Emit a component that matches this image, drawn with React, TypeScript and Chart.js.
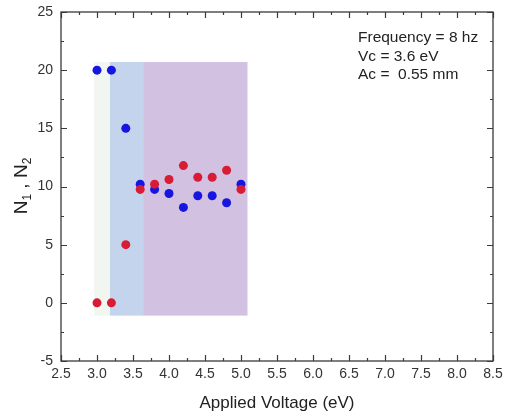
import React, { useEffect, useRef } from "react";
import { Chart, registerables } from "chart.js";

Chart.register(...registerables);

const voltages = [3.0, 3.2, 3.4, 3.6, 3.8, 4.0, 4.2, 4.4, 4.6, 4.8, 5.0];
const n1Values = [20, 20, 15, 10.2, 9.75, 9.4, 8.2, 9.2, 9.2, 8.6, 10.2];
const n2Values = [0, 0, 5, 9.75, 10.2, 10.6, 11.8, 10.8, 10.8, 11.4, 9.75];

const regionStarts = [2.96, 3.18, 3.64];
const regionEnds = [3.18, 3.64, 5.09];
const regionTop = 20.7;
const regionBottom = -1.1;
const regionColors = ["#f2f6f0", "#c4d4ec", "#d3c1e2"];

const annotationLines = ["Frequency = 8 hz", "Vc = 3.6 eV", "Ac =  0.55 mm"];

const xMin = 2.5, xMax = 8.5, xStep = 0.5;
const yMin = -5, yMax = 25, yStep = 5;

const FONT = "'Liberation Sans', Arial, sans-serif";
const AXIS_COLOR = "#3a3a3a";

const regionsPlugin = {
  id: "regions",
  beforeDatasetsDraw(chart: any) {
    const { ctx, scales } = chart;
    const x = scales.x, y = scales.y;
    ctx.save();
    for (let i = 0; i < regionStarts.length; i++) {
      const x0 = x.getPixelForValue(regionStarts[i]);
      const x1 = x.getPixelForValue(regionEnds[i]);
      const y0 = y.getPixelForValue(regionTop);
      const y1 = y.getPixelForValue(regionBottom);
      ctx.fillStyle = regionColors[i];
      ctx.fillRect(x0, y0, x1 - x0, y1 - y0);
    }
    ctx.restore();
  },
};

const frameTicksPlugin = {
  id: "frameTicks",
  afterDraw(chart: any) {
    const { ctx, chartArea, scales } = chart;
    const { left, right, top, bottom } = chartArea;
    ctx.save();
    ctx.strokeStyle = AXIS_COLOR;
    ctx.lineWidth = 1.3;
    ctx.strokeRect(left, top, right - left, bottom - top);
    const major = 6, minor = 3;
    ctx.lineWidth = 1.2;
    ctx.beginPath();
    for (let v = xMin; v <= xMax + 1e-9; v += xStep / 2) {
      const isMajor = Math.abs(Math.round(v / xStep) * xStep - v) < 1e-6;
      const len = isMajor ? major : minor;
      const px = Math.round(scales.x.getPixelForValue(v)) + 0.5;
      ctx.moveTo(px, bottom);
      ctx.lineTo(px, bottom - len);
      ctx.moveTo(px, top);
      ctx.lineTo(px, top + len);
    }
    for (let v = yMin; v <= yMax + 1e-9; v += yStep / 2) {
      const isMajor = Math.abs(Math.round(v / yStep) * yStep - v) < 1e-6;
      const len = isMajor ? major : minor;
      const py = Math.round(scales.y.getPixelForValue(v)) + 0.5;
      ctx.moveTo(left, py);
      ctx.lineTo(left + len, py);
      ctx.moveTo(right, py);
      ctx.lineTo(right - len, py);
    }
    ctx.stroke();

    // annotation text
    ctx.fillStyle = "#222";
    ctx.font = `15.5px ${FONT}`;
    ctx.textBaseline = "middle";
    ctx.textAlign = "left";
    annotationLines.forEach((t, i) => {
      ctx.fillText(t, 358, 38 + i * 18.5);
    });

    // y title with subscripts
    ctx.translate(20, 186);
    ctx.rotate(-Math.PI / 2);
    const big = `19px ${FONT}`;
    const small = `12px ${FONT}`;
    const parts: [string, boolean][] = [["N", false], ["1", true], [" , N", false], ["2", true]];
    let total = 0;
    for (const [t, sub] of parts) {
      ctx.font = sub ? small : big;
      total += ctx.measureText(t).width;
    }
    let cx = -total / 2;
    ctx.textAlign = "left";
    ctx.textBaseline = "alphabetic";
    ctx.fillStyle = "#222";
    for (const [t, sub] of parts) {
      ctx.font = sub ? small : big;
      ctx.fillText(t, cx, sub ? 11 : 7);
      cx += ctx.measureText(t).width;
    }
    ctx.restore();
  },
};

export default function App() {
  const ref = useRef<HTMLCanvasElement>(null);
  useEffect(() => {
    const chart = new Chart(ref.current!, {
      type: "scatter",
      data: {
        datasets: [
          {
            label: "N2",
            data: voltages.map((v, i) => ({ x: v, y: n2Values[i] })),
            backgroundColor: "#d81c35",
            borderWidth: 0,
            pointRadius: 4.5,
            order: 0,
          },
          {
            label: "N1",
            data: voltages.map((v, i) => ({ x: v, y: n1Values[i] })),
            backgroundColor: "#1616e0",
            borderWidth: 0,
            pointRadius: 4.5,
            order: 1,
          },
        ],
      },
      options: {
        animation: false,
        responsive: false,
        layout: { padding: { left: 0, top: 12, right: 12, bottom: 0 } },
        plugins: { legend: { display: false }, tooltip: { enabled: false } },
        scales: {
          x: {
            type: "linear",
            min: xMin,
            max: xMax,
            afterFit: (s: any) => {
              s.height = 55;
              s.paddingLeft = 0;
              s.paddingRight = 0;
            },
            afterBuildTicks: (s: any) => {
              const t = [];
              for (let v = xMin; v <= xMax + 1e-9; v += xStep) t.push({ value: Math.round(v * 10) / 10 });
              s.ticks = t;
            },
            grid: { display: false, drawTicks: false },
            border: { display: false },
            ticks: {
              padding: 5,
              color: "#333",
              font: { family: FONT, size: 14 },
              maxRotation: 0,
              autoSkip: false,
              callback: (v: any) => Number(v).toFixed(1),
            },
            title: {
              display: true,
              text: "Applied Voltage (eV)",
              color: "#222",
              font: { family: FONT, size: 17 },
              padding: { top: 0, bottom: 2 },
            },
          },
          y: {
            type: "linear",
            min: yMin,
            max: yMax,
            afterFit: (s: any) => {
              s.width = 61;
              s.paddingTop = 0;
              s.paddingBottom = 0;
            },
            afterBuildTicks: (s: any) => {
              const t = [];
              for (let v = yMin; v <= yMax + 1e-9; v += yStep) t.push({ value: v });
              s.ticks = t;
            },
            grid: { display: false, drawTicks: false },
            border: { display: false },
            ticks: {
              padding: 8,
              color: "#333",
              font: { family: FONT, size: 14 },
              autoSkip: false,
            },
          },
        },
      },
      plugins: [regionsPlugin, frameTicksPlugin],
    } as any);
    return () => chart.destroy();
  }, []);
  return (
    <div style={{ position: "fixed", left: 0, top: 0, width: 505, height: 416, background: "#fff" }}>
      <canvas ref={ref} width={505} height={416} style={{ display: "block" }} />
    </div>
  );
}
